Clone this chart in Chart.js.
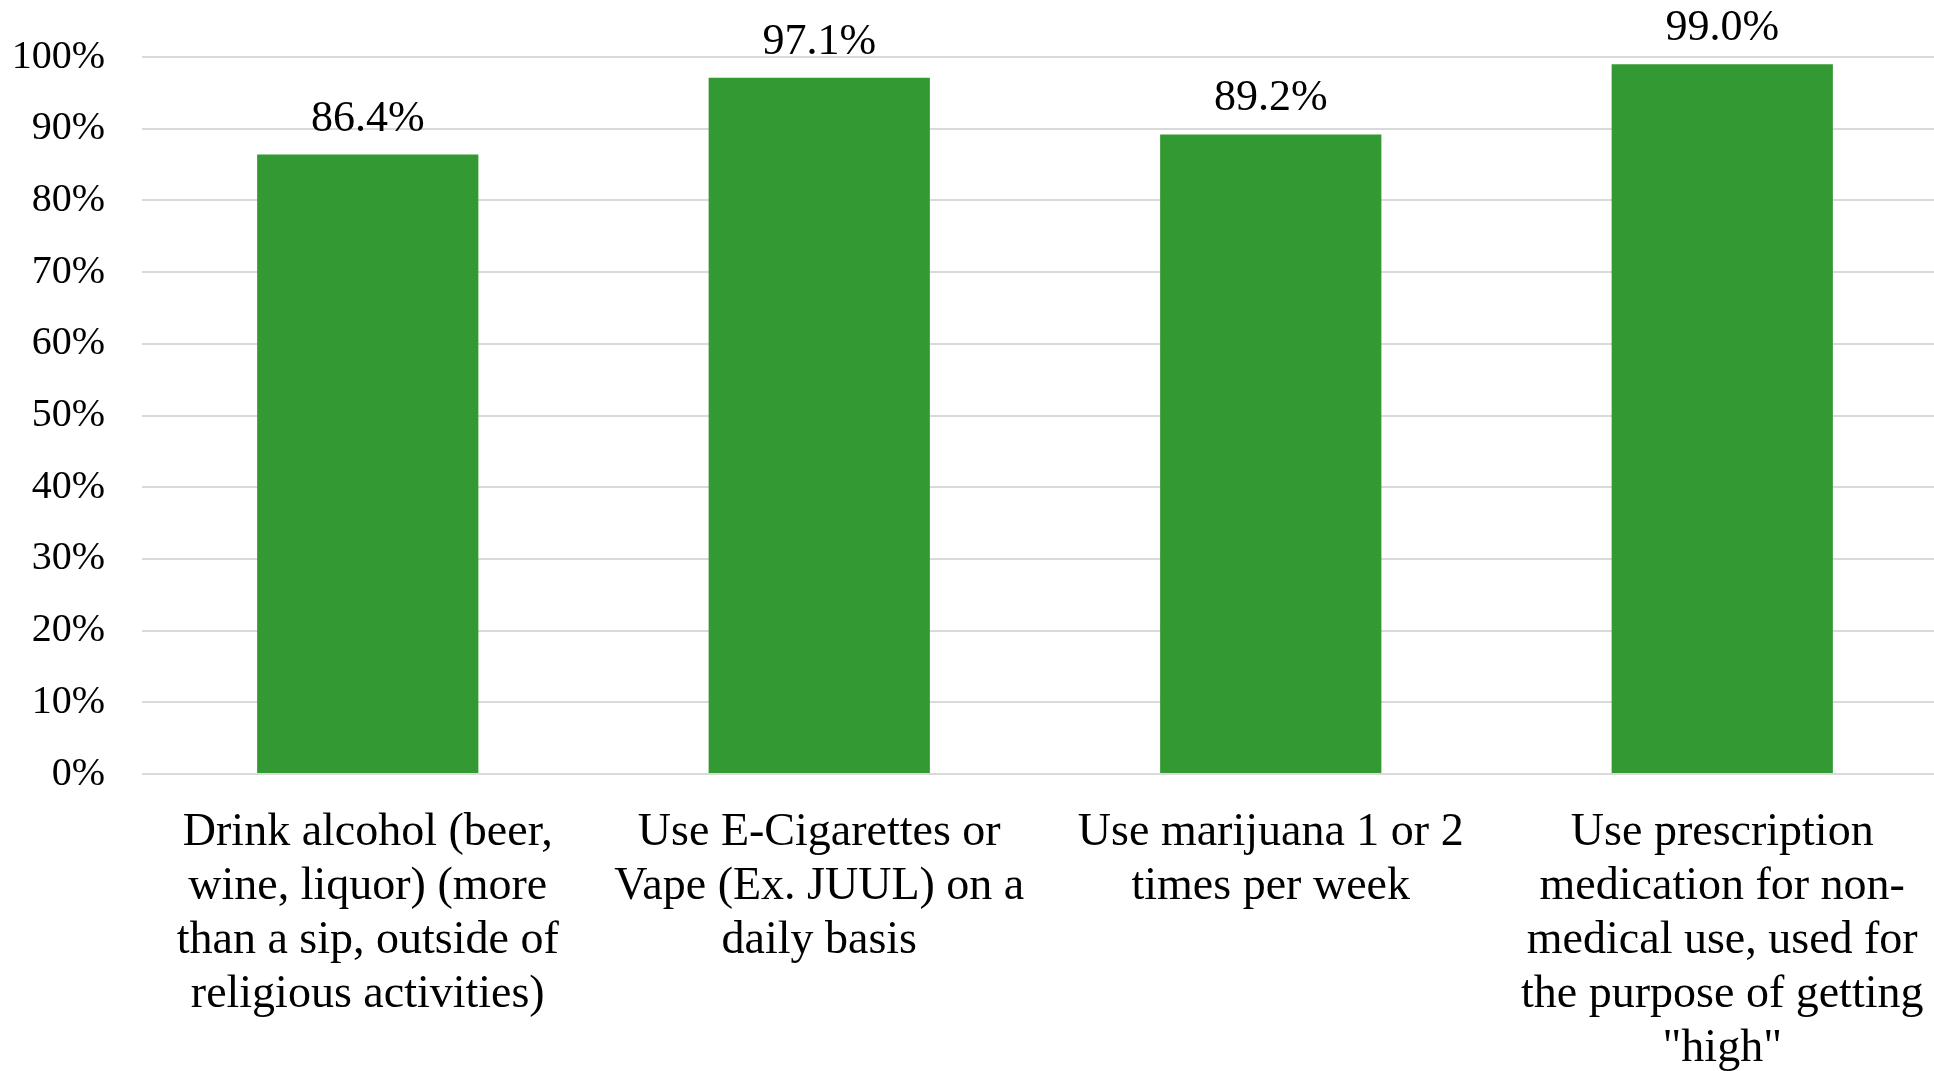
<!DOCTYPE html>
<html>
<head>
<meta charset="utf-8">
<script src="https://cdn.jsdelivr.net/npm/chart.js@4/dist/chart.umd.min.js"></script>
<style>
html,body{margin:0;padding:0;background:#fff;overflow:hidden;}
#wrap{width:1934px;height:1071px;overflow:hidden;}
</style>
</head>
<body>
<div id="wrap"><canvas id="c" width="1948" height="1071"></canvas></div>
<script>
const categories = [
  ["Drink alcohol (beer,", "wine, liquor) (more", "than a sip, outside of", "religious activities)"],
  ["Use E-Cigarettes or", "Vape (Ex. JUUL) on a", "daily basis"],
  ["Use marijuana 1 or 2", "times per week"],
  ["Use prescription", "medication for non-", "medical use, used for", "the purpose of getting", "\"high\""]
];
const values = [86.4, 97.1, 89.2, 99.0];
const yTicks = [0, 10, 20, 30, 40, 50, 60, 70, 80, 90, 100];

const FONT = '"Liberation Serif", "Times New Roman", serif';
Chart.defaults.font.family = FONT;
Chart.defaults.color = '#000';

const valueLabels = {
  id: 'valueLabels',
  afterDatasetsDraw(chart) {
    const ctx = chart.ctx;
    const meta = chart.getDatasetMeta(0);
    ctx.save();
    ctx.font = '44px ' + FONT;
    ctx.fillStyle = '#000';
    ctx.textAlign = 'center';
    ctx.textBaseline = 'alphabetic';
    meta.data.forEach((bar, i) => {
      ctx.fillText(values[i].toFixed(1) + '%', bar.x, bar.y - 24);
    });
    ctx.restore();
  }
};

new Chart(document.getElementById('c'), {
  type: 'bar',
  data: {
    labels: categories,
    datasets: [{
      data: values,
      backgroundColor: '#339933',
      borderWidth: 0,
      categoryPercentage: 1.0,
      barPercentage: 0.49
    }]
  },
  options: {
    responsive: false,
    animation: false,
    layout: { padding: { top: 57, right: 0, left: 0, bottom: 0 } },
    plugins: { legend: { display: false }, tooltip: { enabled: false } },
    scales: {
      x: {
        grid: { display: false, drawTicks: false },
        border: { display: false },
        ticks: {
          font: { size: 46, lineHeight: 1.175 },
          color: '#000',
          maxRotation: 0,
          autoSkip: false,
          padding: 32
        },
        afterFit(scale) {
          scale.height = 297;
          scale.paddingLeft = 0;
          scale.paddingRight = 0;
        }
      },
      y: {
        min: 0,
        max: 100,
        afterBuildTicks(scale) { scale.ticks = yTicks.map(v => ({ value: v })); },
        grid: { color: '#d9d9d9', lineWidth: 2, drawTicks: false },
        border: { display: false },
        ticks: {
          font: { size: 40 },
          color: '#000',
          padding: 37,
          callback: v => v + '%'
        },
        afterFit(scale) {
          scale.width = 142;
          scale.paddingTop = 0;
          scale.paddingBottom = 0;
        }
      }
    }
  },
  plugins: [valueLabels]
});
</script>
</body>
</html>
